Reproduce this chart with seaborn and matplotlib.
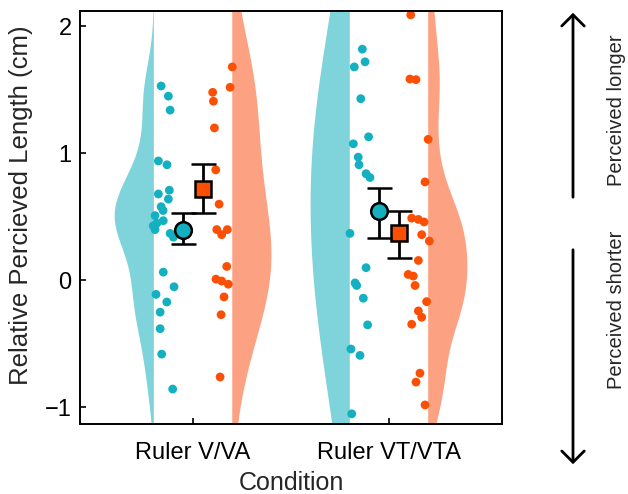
import numpy as np
import pandas as pd
import seaborn as sns
import matplotlib.pyplot as plt
from matplotlib.patches import FancyArrowPatch

# categories
conditions = ['Ruler V/VA', 'Ruler VT/VTA']

# single participant values (cm)
# visual (V, VT) -> teal, with audio (VA, VTA) -> orange
v_va_vis = [1.53, 1.45, 1.34, 0.94, 0.91, 0.71, 0.68, 0.64, 0.58, 0.55, 0.51, 0.47,
            0.45, 0.43, 0.40, 0.37, 0.34, 0.065, -0.05, -0.11, -0.17, -0.25, -0.38,
            -0.58, -0.855]
v_va_vis_jit = [-0.163, -0.126, -0.117, -0.177, -0.133, -0.121, -0.177, -0.126, -0.163,
                -0.153, -0.194, -0.152, -0.185, -0.203, -0.194, -0.117, -0.100, -0.152,
                -0.097, -0.189, -0.134, -0.168, -0.168, -0.160, -0.104]
v_va_aud = [1.68, 1.52, 1.48, 1.41, 1.20, 0.87, 0.60, 0.40, 0.40, 0.36, 0.11,
            0.01, -0.005, -0.03, -0.13, -0.27, -0.76]
v_va_aud_jit = [0.200, 0.189, 0.100, 0.104, 0.109, 0.116, 0.133, 0.121, 0.175,
                0.146, 0.172, 0.117, 0.146, 0.180, 0.158, 0.143, 0.138]

vt_vta_vis = [1.82, 1.72, 1.68, 1.43, 1.13, 1.075, 0.97, 0.91, 0.84, 0.81, 0.37, 0.10,
              -0.02, -0.04, -0.14, -0.35, -0.54, -0.59, -1.05]
vt_vta_vis_jit = [-0.136, -0.122, -0.177, -0.144, -0.104, -0.182, -0.157, -0.153, -0.117,
                  -0.097, -0.199, -0.117, -0.173, -0.165, -0.131, -0.109, -0.194, -0.148,
                  -0.190]
vt_vta_aud = [2.09, 1.585, 1.58, 1.11, 0.775, 0.49, 0.48, 0.46, 0.36, 0.31, 0.157,
              0.047, 0.034, -0.04, -0.167, -0.24, -0.29, -0.345, -0.73, -0.80, -0.98]
vt_vta_aud_jit = [0.111, 0.107, 0.138, 0.200, 0.184, 0.116, 0.150, 0.179, 0.167, 0.206,
                  0.150, 0.098, 0.124, 0.133, 0.192, 0.150, 0.167, 0.116, 0.158, 0.138,
                  0.184]

# group means and error bar ends
mean_vis = [0.40, 0.545]
low_vis = [0.29, 0.335]
high_vis = [0.53, 0.73]
mean_aud = [0.72, 0.37]
low_aud = [0.53, 0.18]
high_aud = [0.92, 0.55]

teal_fill = '#7fd3da'
teal_dot = '#12b0c0'
orange_fill = '#fca283'
orange_dot = '#fb5004'

rows = []
for i, (vis, vj, aud, aj) in enumerate([(v_va_vis, v_va_vis_jit, v_va_aud, v_va_aud_jit),
                                        (vt_vta_vis, vt_vta_vis_jit, vt_vta_aud, vt_vta_aud_jit)]):
    for y, j in zip(vis, vj):
        rows.append({'cond': i, 'pos': i + j, 'value': y, 'mod': 'vis'})
    for y, j in zip(aud, aj):
        rows.append({'cond': i, 'pos': i + j, 'value': y, 'mod': 'aud'})
df = pd.DataFrame(rows)

sns.set_style('ticks')
plt.rcParams['font.family'] = ['Liberation Sans', 'DejaVu Sans']

fig = plt.figure(figsize=(6.28, 4.94), dpi=100)
ax = fig.add_axes([0.1274, 0.1417, 0.672, 0.836])

# half violins (gaussian kde)
bw = {('vis', 0): 0.26, ('aud', 0): 0.50, ('vis', 1): 0.90, ('aud', 1): 0.28}
grid = np.linspace(-1.6, 2.6, 400)
for (mod, i), h in bw.items():
    vals = df[(df['mod'] == mod) & (df['cond'] == i)]['value'].to_numpy()
    dens = np.exp(-0.5 * ((grid[:, None] - vals[None, :]) / h) ** 2).sum(axis=1)
    dens = dens / dens.max() * 0.2
    if mod == 'vis':
        ax.fill_betweenx(grid, i - 0.2 - dens, i - 0.2, color=teal_fill, lw=0, zorder=1)
    else:
        ax.fill_betweenx(grid, i + 0.2, i + 0.2 + dens, color=orange_fill, lw=0, zorder=1)

sns.scatterplot(data=df, x='pos', y='value', hue='mod',
                palette={'vis': teal_dot, 'aud': orange_dot},
                s=40, linewidth=0, legend=False, ax=ax, zorder=2)

xs = np.arange(len(conditions))
m = np.array(mean_vis)
ax.errorbar(xs - 0.05, m, yerr=[m - np.array(low_vis), np.array(high_vis) - m],
            fmt='o', ms=12, mfc=teal_dot, mec='black', mew=1.8, ecolor='black',
            elinewidth=2, capsize=9, capthick=2, zorder=4)
m = np.array(mean_aud)
ax.errorbar(xs + 0.05, m, yerr=[m - np.array(low_aud), np.array(high_aud) - m],
            fmt='s', ms=11, mfc=orange_dot, mec='black', mew=1.8, ecolor='black',
            elinewidth=2, capsize=9, capthick=2, zorder=3)

ax.set_xlim(-0.577, 1.577)
ax.set_ylim(-1.13, 2.12)
ax.set_xticks(xs)
ax.set_xticklabels(conditions)
ax.set_yticks([-1, 0, 1, 2])
ax.set_yticklabels(['\u22121', '0', '1', '2'])
ax.tick_params(direction='in', length=4, width=1.2, labelsize=17, colors='black')
ax.tick_params(axis='x', pad=13)
ax.tick_params(axis='y', pad=6)
for s in ax.spines.values():
    s.set_linewidth(1.4)
    s.set_color('black')
    s.set_visible(True)

ax.set_xlabel('Condition', fontsize=18, labelpad=5)
ax.set_ylabel('Relative Percieved Length (cm)', fontsize=18.5)
ax.yaxis.set_label_coords(-0.111, 0.53)

# side arrows
ax_x = 573 / 628
style = '->,head_length=0.45,head_width=0.45'
fig.add_artist(FancyArrowPatch((ax_x, 1 - 200 / 494), (ax_x, 1 - 10 / 494),
                               transform=fig.transFigure, arrowstyle=style,
                               mutation_scale=18, lw=2, color='black'))
fig.add_artist(FancyArrowPatch((ax_x, 1 - 247 / 494), (ax_x, 1 - 467 / 494),
                               transform=fig.transFigure, arrowstyle=style,
                               mutation_scale=18, lw=2, color='black'))
fig.text(617 / 628, 1 - 110 / 494, 'Perceived longer', rotation=90, ha='center', va='center', fontsize=14.5)
fig.text(617 / 628, 1 - 310 / 494, 'Perceived shorter', rotation=90, ha='center', va='center', fontsize=14.5)

fig.savefig('out.png', dpi=100)
